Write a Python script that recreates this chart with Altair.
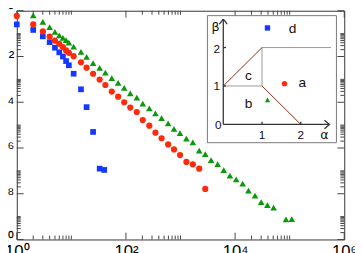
import json
import altair as alt
import pandas as pd

# ---------------- main data ----------------
red_x = [1, 2, 3, 4, 5, 6, 7, 8, 9, 11, 15, 19, 25, 33, 42, 55, 72, 93, 120, 158,
         203, 268, 347, 450, 593, 759, 979, 1280, 1680, 2200, 2840]
red_y = [0.594, 0.2535, 0.1253, 0.0745, 0.0494, 0.0357, 0.0259, 0.01837, 0.01452, 0.0103,
         5.56e-3, 3.24e-3, 1.766e-3, 9.8e-4, 5.66e-4, 2.94e-4, 1.75e-4, 1.0e-4, 5.83e-5, 3.75e-5,
         1.66e-5, 9.5e-6, 4.66e-6, 2.67e-6, 1.435e-6, 8.63e-7, 4.89e-7, 2.46e-7, 1.93e-7, 1.25e-7,
         1.63e-8]

green_x = [2, 3, 4, 5, 6, 7, 8, 9, 11, 15, 19, 25, 33, 42, 55, 72, 93, 120, 158, 203,
           268, 347, 450, 593, 759, 979, 1280, 1680, 2200, 2840, 3630, 4790, 6190, 8040,
           10470, 13740, 17580, 23170, 30060, 39080, 50700, 85500, 109400]
green_y = [0.631, 0.330, 0.193, 0.118, 0.0847, 0.0656, 0.0519, 0.0406, 0.0272, 0.0158,
           9.7e-3, 5.19e-3, 3.18e-3, 1.95e-3, 1.125e-3, 6.97e-4, 4.23e-4, 2.47e-4, 1.58e-4, 8.81e-5,
           5.4e-5, 3.3e-5, 2.02e-5, 1.19e-5, 6.89e-6, 4.48e-6, 2.59e-6, 1.75e-6, 7.6e-7, 5.4e-7,
           2.94e-7, 1.95e-7, 1.08e-7, 6.25e-8, 4.23e-8, 2.74e-8, 1.38e-8, 8.2e-9, 4.27e-9, 3.18e-9,
           2.46e-9, 7.6e-10, 7.8e-10]

blue_x = [1, 2, 3, 4, 5, 6, 7, 8, 9, 11, 15, 19, 25, 33, 40]
blue_y = [0.2535, 0.145, 0.076, 0.0423, 0.0242, 0.0152, 0.0100, 0.0063, 0.00414, 1.766e-3,
          3.68e-4, 6.12e-5, 5.04e-6, 1.25e-7, 1.10e-7]

series = ["d", "a", "b"]
series_colors = ["#1438ff", "#ff2a0a", "#0a990a"]
series_shapes = ["square", "circle", "triangle-up"]
series_sizes = [34, 46, 48]

# axis ticks
x_domain = [1, 1e6]
y_domain = [1e-10, 1]
x_major = [1, 1e2, 1e4, 1e6]
x_major_labels = ["10⁰", "10²", "10⁴", "10⁶"]
x_minor = [m * 10.0 ** e for e in (0, 2, 4) for m in range(2, 11)]
y_major = [1, 1e-2, 1e-4, 1e-6, 1e-8, 1e-10]
y_major_labels = ["10⁰", "10⁻²", "10⁻⁴", "10⁻⁶", "10⁻⁸", "10⁻¹⁰"]
y_minor = [m * 10.0 ** e for e in (-2, -4, -6, -8, -10) for m in range(2, 11)]

# ---------------- inset data (alpha, beta plane) ----------------
box_a = [-0.41, 2.92]
box_b = [-0.476, 2.83]

gray_a0 = [0, 1, 1]
gray_b0 = [1, 1, 2]
gray_a1 = [1, 1, 2.78]
gray_b1 = [1, 2, 2]

red_a0 = [0, 1]
red_b0 = [1, 1]
red_a1 = [1, 2]
red_b1 = [2, 0]

ax_a0 = [0, 0, 2.74, 2.74, 0, 0, 1, 2, 0, 0]
ax_b0 = [0, 0, 0, 0, 2.74, 2.74, 0, 0, 1, 2]
ax_a1 = [2.74, 0, 2.61, 2.61, -0.1, 0.1, 1, 2, 0.07, 0.07]
ax_b1 = [0, 2.74, 0.11, -0.11, 2.61, 2.61, 0.07, 0.07, 1, 2]

region_text = ["a", "b", "c", "d"]
region_a = [2.04, 0.65, 0.65, 1.79]
region_b = [1.08, 0.52, 1.25, 2.47]

tick_text = ["1", "2", "0", "1", "2"]
tick_a = [1.0, 2.0, -0.13, -0.17, -0.17]
tick_b = [-0.27, -0.27, -0.02, 1.0, 1.97]

greek_text = ["α", "β"]
greek_a = [2.61, -0.2]
greek_b = [-0.27, 2.53]

inset_s = ["d", "a", "b"]
inset_a = [1.14, 1.58, 1.14]
inset_b = [2.51, 1.06, 0.64]

# ---------------- build ----------------
df = pd.concat([
    pd.DataFrame({"x": blue_x, "y": blue_y, "s": "d"}),
    pd.DataFrame({"x": red_x, "y": red_y, "s": "a"}),
    pd.DataFrame({"x": green_x, "y": green_y, "s": "b"}),
], ignore_index=True)

W, H = 335, 234
FONT = "Liberation Sans"
TICK_COLOR = "#444444"


def label_expr(vals, labs):
    parts = [f"datum.value === {json.dumps(v)} ? '{l}'" for v, l in zip(vals, labs)]
    return " : ".join(parts) + " : ''"


def xs():
    return alt.Scale(type="log", domain=x_domain, nice=False)


def ys():
    return alt.Scale(type="log", domain=y_domain, nice=False)


common_axis = dict(domain=False, grid=False, title=None, ticks=False,
                   labelFont=FONT, labelFontSize=17, labelColor="#000", labelOverlap=False,
                   labelFlush=False)

x_axis = alt.Axis(orient="bottom", values=x_major,
                  labelExpr=label_expr(x_major, x_major_labels), labelPadding=4, **common_axis)
y_axis = alt.Axis(orient="left", values=y_major,
                  labelExpr=label_expr(y_major, y_major_labels), labelPadding=3, **common_axis)

color = alt.Color("s:N", scale=alt.Scale(domain=series, range=series_colors), legend=None)
shape = alt.Shape("s:N", scale=alt.Scale(domain=series, range=series_shapes), legend=None)

points = alt.Chart(df).mark_point(filled=True, opacity=1).encode(
    x=alt.X("x:Q", scale=xs(), axis=x_axis),
    y=alt.Y("y:Q", scale=ys(), axis=y_axis),
    color=color,
    shape=shape,
    size=alt.Size("s:N", scale=alt.Scale(domain=series, range=series_sizes), legend=None),
)

# inward tick marks drawn as short line-shaped symbols sitting on the frame edges
UP, DOWN, RIGHT, LEFT = "M0,0L0,-2", "M0,0L0,2", "M0,0L2,0", "M0,0L-2,0"


def tick_layer(xvals, yvals, path, length):
    d = pd.DataFrame({"x": xvals, "y": yvals})
    return alt.Chart(d).mark_point(
        shape=path, size=length * length, filled=False, opacity=1,
        color=TICK_COLOR, strokeWidth=1).encode(
        x=alt.X("x:Q", scale=xs(), axis=None),
        y=alt.Y("y:Q", scale=ys(), axis=None))


def xticks(vals, length):
    n = len(vals)
    return [tick_layer(vals, [y_domain[0]] * n, UP, length),
            tick_layer(vals, [y_domain[1]] * n, DOWN, length)]


def yticks(vals, length):
    n = len(vals)
    return [tick_layer([x_domain[0]] * n, vals, RIGHT, length),
            tick_layer([x_domain[1]] * n, vals, LEFT, length)]


# inset scales: alpha/beta plane placed in the upper right of the plot
def AS():
    return alt.Scale(domain=box_a, range=[195, 327], nice=False, zero=False)


def BS():
    return alt.Scale(domain=box_b, range=[135, 5], nice=False, zero=False)


def seg_layer(a0, b0, a1, b1, col, w):
    d = pd.DataFrame({"a0": a0, "b0": b0, "a1": a1, "b1": b1})
    return alt.Chart(d).mark_rule(color=col, strokeWidth=w).encode(
        x=alt.X("a0:Q", scale=AS(), axis=None), x2="a1:Q",
        y=alt.Y("b0:Q", scale=BS(), axis=None), y2="b1:Q")


def text_layer(txt, a, b, size, font=FONT):
    d = pd.DataFrame({"t": txt, "a": a, "b": b})
    return alt.Chart(d).mark_text(fontSize=size, font=font, color="#111",
                                  align="center", baseline="middle").encode(
        x=alt.X("a:Q", scale=AS(), axis=None), y=alt.Y("b:Q", scale=BS(), axis=None),
        text="t:N")


box = alt.Chart(pd.DataFrame({"a0": [box_a[0]], "a1": [box_a[1]],
                              "b0": [box_b[0]], "b1": [box_b[1]]})).mark_rect(
    fill="white", stroke="#777", strokeWidth=1).encode(
    x=alt.X("a0:Q", scale=AS(), axis=None), x2="a1:Q",
    y=alt.Y("b0:Q", scale=BS(), axis=None), y2="b1:Q")

inset_pts = alt.Chart(pd.DataFrame({"a": inset_a, "b": inset_b, "s": inset_s})).mark_point(
    filled=True, opacity=1, size=30).encode(
    x=alt.X("a:Q", scale=AS(), axis=None), y=alt.Y("b:Q", scale=BS(), axis=None),
    color=color, shape=shape)

chart = alt.layer(
    *xticks(x_minor, 4), *xticks(x_major, 7),
    *yticks(y_minor, 4), *yticks(y_major, 7),
    points,
    box,
    seg_layer(gray_a0, gray_b0, gray_a1, gray_b1, "#9a9a9a", 1),
    seg_layer(red_a0, red_b0, red_a1, red_b1, "#8b2a1a", 1),
    seg_layer(ax_a0, ax_b0, ax_a1, ax_b1, "#333333", 1.3),
    text_layer(region_text, region_a, region_b, 14),
    text_layer(tick_text, tick_a, tick_b, 12),
    text_layer(greek_text, greek_a, greek_b, 13, "DejaVu Sans"),
    inset_pts,
).resolve_scale(x="independent", y="independent").properties(
    width=W, height=H,
    autosize=alt.AutoSizeParams(type="none"),
    padding={"left": 9, "top": 0, "right": 11, "bottom": 11},
).configure_view(stroke="#333", strokeWidth=1)

chart.save("out.html", embed_options={"renderer": "svg", "actions": False})
